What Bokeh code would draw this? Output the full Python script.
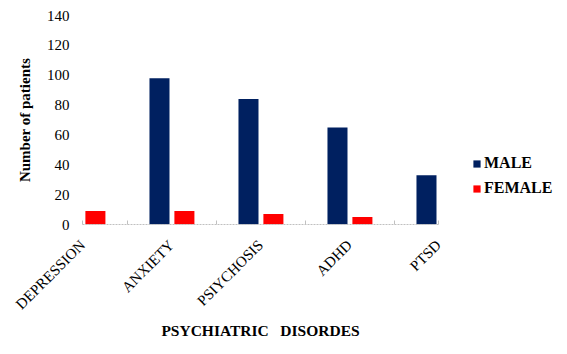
import math
from bokeh.plotting import figure
from bokeh.models import ColumnDataSource, Range1d, FixedTicker, Legend, LegendItem
from bokeh.transform import dodge
from bokeh.embed import file_html
from bokeh.resources import INLINE

categories = ["DEPRESSION", "ANXIETY", "PSIYCHOSIS", "ADHD", "PTSD"]
male = [0, 98, 84, 65, 33]
female = [9, 9, 7, 5, 0]
y_ticks = [0, 20, 40, 60, 80, 100, 120, 140]

src = ColumnDataSource(dict(pos=list(range(len(categories))), cat=categories,
                            male=male, female=female))

FONT = "'Liberation Serif', 'Times New Roman', serif"

p = figure(frame_width=356, frame_height=209,
           x_range=Range1d(0, len(categories) - 1), y_range=Range1d(0, 140),
           output_backend="svg", toolbar_location=None,
           min_border_left=82, min_border_right=118,
           min_border_top=15, min_border_bottom=122)

rm = p.vbar(x=dodge("pos", -0.135, range=p.x_range), top="male", width=0.225,
            source=src, fill_color="#002060", line_color=None)
rf = p.vbar(x=dodge("pos", 0.145, range=p.x_range), top="female", width=0.225,
            source=src, fill_color="#FF0000", line_color=None)

p.xgrid.visible = False
p.ygrid.visible = False
p.outline_line_color = None

# y axis
p.yaxis.ticker = y_ticks
p.yaxis.axis_line_color = None
p.yaxis.major_tick_line_color = None
p.yaxis.minor_tick_line_color = None
p.yaxis.major_label_text_font = FONT
p.yaxis.major_label_text_font_size = "15px"
p.yaxis.major_label_text_color = "#000000"
p.yaxis.major_label_standoff = 7
p.yaxis.axis_label = "Number of patients"
p.yaxis.axis_label_text_font = FONT
p.yaxis.axis_label_text_font_style = "bold"
p.yaxis.axis_label_text_font_size = "15px"
p.yaxis.axis_label_text_color = "#000000"
p.yaxis.axis_label_standoff = 11

# x axis
n = len(categories)
p.xaxis.ticker = FixedTicker(ticks=list(range(n)),
                             minor_ticks=[0] + [i + 0.5 for i in range(n - 1)] + [n - 1])
p.xaxis.major_label_overrides = {i: c for i, c in enumerate(categories)}
p.xaxis.major_label_orientation = math.pi / 4
p.xaxis.major_tick_in = 0
p.xaxis.major_tick_out = 0
p.xaxis.minor_tick_in = 4
p.xaxis.minor_tick_out = 0
p.xaxis.minor_tick_line_color = "#c0c0c0"
p.xaxis.axis_line_color = "#c0c0c0"
p.xaxis.axis_line_dash = "2 1"
p.xaxis.major_label_text_font = FONT
p.xaxis.major_label_text_font_size = "15px"
p.xaxis.major_label_text_color = "#000000"
p.xaxis.major_label_standoff = 18
p.xaxis.axis_label = "PSYCHIATRIC\u00a0\u00a0\u00a0DISORDES"
p.xaxis.axis_label_text_font = FONT
p.xaxis.axis_label_text_font_style = "bold"
p.xaxis.axis_label_text_font_size = "15.5px"
p.xaxis.axis_label_text_color = "#000000"
p.xaxis.axis_label_standoff = 1

legend = Legend(items=[LegendItem(label="MALE", renderers=[rm]),
                       LegendItem(label="FEMALE", renderers=[rf])],
                location=(34, 26), orientation="vertical",
                glyph_width=9, glyph_height=9, label_height=20, spacing=5,
                padding=0, margin=0, border_line_color=None,
                background_fill_alpha=0, label_standoff=3,
                label_text_font=FONT, label_text_font_style="bold",
                label_text_font_size="16px", label_text_color="#000000")
p.add_layout(legend, "right")

open("out.html", "w").write(file_html(p, INLINE))
